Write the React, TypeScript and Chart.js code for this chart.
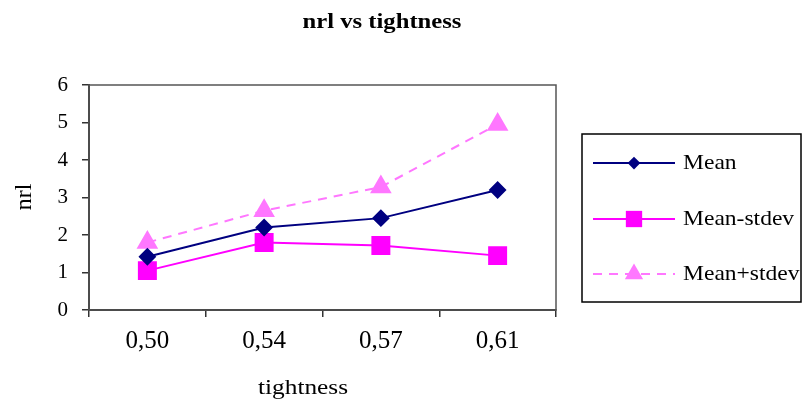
import React, { useEffect, useRef } from "react";
import { Chart, registerables } from "chart.js";

Chart.register(...registerables);

const categories = ["0,50", "0,54", "0,57", "0,61"];
const meanValues = [1.42, 2.2, 2.45, 3.2];
const meanMinusStdev = [1.05, 1.8, 1.72, 1.45];
const meanPlusStdev = [1.8, 2.65, 3.28, 4.95];
const yTicks = [0, 1, 2, 3, 4, 5, 6];
const chartTitle = "nrl vs tightness";
const xTitle = "tightness";
const yTitle = "nrl";

const FONT = "'Liberation Serif', 'Times New Roman', serif";

function stretchedText(ctx: any, text: string, x: number, y: number, sx: number, align: string) {
  ctx.save();
  ctx.translate(x, y);
  ctx.scale(sx, 1);
  ctx.textAlign = align;
  ctx.fillText(text, 0, 0);
  ctx.restore();
}

const decorPlugin = {
  id: "decor",
  afterDraw(chart: any) {
    const ctx = chart.ctx;
    const a = chart.chartArea;
    ctx.save();
    // plot area border
    ctx.strokeStyle = "#555555";
    ctx.lineWidth = 1.5;
    ctx.strokeRect(a.left, a.top, a.right - a.left, a.bottom - a.top);
    // title
    ctx.fillStyle = "#000";
    ctx.textBaseline = "middle";
    ctx.font = `bold 22px ${FONT}`;
    stretchedText(ctx, chartTitle, 382, 22, 1.12, "center");
    ctx.font = `22px ${FONT}`;
    stretchedText(ctx, xTitle, 303, 388, 1.15, "center");
    ctx.save();
    ctx.translate(25, 197);
    ctx.rotate(-Math.PI / 2);
    ctx.font = `24px ${FONT}`;
    ctx.textAlign = "center";
    ctx.fillText(yTitle, 0, 0);
    ctx.restore();
    // legend
    const lx = 582, ly = 134, lw = 219, lh = 168;
    ctx.fillStyle = "#fff";
    ctx.fillRect(lx, ly, lw, lh);
    ctx.strokeStyle = "#000";
    ctx.lineWidth = 1.5;
    ctx.strokeRect(lx, ly, lw, lh);
    const rows = [163, 219, 274];
    chart.data.datasets.forEach((ds: any, i: number) => {
      const y = rows[i];
      ctx.strokeStyle = ds.borderColor;
      ctx.lineWidth = ds.borderWidth;
      ctx.setLineDash(ds.borderDash || []);
      ctx.beginPath();
      ctx.moveTo(593, y);
      ctx.lineTo(675, y);
      ctx.stroke();
      ctx.setLineDash([]);
      ctx.fillStyle = ds.pointBackgroundColor;
      const cx = 634;
      const r = ds.pointRadius;
      ctx.beginPath();
      if (ds.pointStyle === "rectRot") {
        const d = r * 0.85;
        ctx.moveTo(cx, y - d);
        ctx.lineTo(cx + d, y);
        ctx.lineTo(cx, y + d);
        ctx.lineTo(cx - d, y);
      } else if (ds.pointStyle === "rect") {
        const s = r * 0.68;
        ctx.rect(cx - s, y - s, 2 * s, 2 * s);
      } else {
        ctx.moveTo(cx, y - r);
        ctx.lineTo(cx + r * 0.87, y + r * 0.5);
        ctx.lineTo(cx - r * 0.87, y + r * 0.5);
      }
      ctx.closePath();
      ctx.fill();
      ctx.fillStyle = "#000";
      ctx.textBaseline = "middle";
      ctx.font = `22px ${FONT}`;
      stretchedText(ctx, ds.label, 683, y, 1.07, "left");
    });
    ctx.restore();
  },
};

export default function App() {
  const ref = useRef<HTMLCanvasElement>(null);
  useEffect(() => {
    document.body.style.margin = "0";
    const chart = new Chart(ref.current!, {
      type: "line",
      data: {
        labels: categories,
        datasets: [
          {
            label: "Mean",
            data: meanValues,
            borderColor: "#000080",
            backgroundColor: "#000080",
            pointBackgroundColor: "#000080",
            pointBorderColor: "#000080",
            borderWidth: 2,
            pointStyle: "rectRot",
            pointRadius: 7.5,
            tension: 0,
          },
          {
            label: "Mean-stdev",
            data: meanMinusStdev,
            borderColor: "#FF00FF",
            backgroundColor: "#FF00FF",
            pointBackgroundColor: "#FF00FF",
            pointBorderColor: "#FF00FF",
            borderWidth: 2,
            pointStyle: "rect",
            pointRadius: 12,
            tension: 0,
          },
          {
            label: "Mean+stdev",
            data: meanPlusStdev,
            borderColor: "#FF77FF",
            backgroundColor: "#FF77FF",
            pointBackgroundColor: "#FF77FF",
            pointBorderColor: "#FF77FF",
            borderWidth: 2,
            borderDash: [9, 7],
            pointStyle: "triangle",
            pointRadius: 10.5,
            tension: 0,
          },
        ] as any,
      },
      options: {
        animation: false,
        responsive: false,
        layout: { padding: { top: 85, left: 0, right: 249, bottom: 0 } },
        plugins: {
          legend: { display: false },
          title: { display: false },
          tooltip: { enabled: false },
        },
        scales: {
          x: {
            offset: true,
            grid: {
              offset: true,
              drawOnChartArea: false,
              drawTicks: true,
              tickLength: 7,
              color: "#333",
              lineWidth: 1.5,
            },
            border: { color: "#333", width: 2 },
            ticks: {
              color: "#000",
              font: { family: FONT, size: 25 },
              padding: 9,
            },
            afterFit: (s: any) => {
              s.height = 100;
            },
          },
          y: {
            min: 0,
            max: 6,
            afterBuildTicks: (s: any) => {
              s.ticks = yTicks.map((v) => ({ value: v }));
            },
            grid: {
              drawOnChartArea: false,
              drawTicks: true,
              tickLength: 7,
              color: "#333",
              lineWidth: 1.5,
            },
            border: { color: "#333", width: 2 },
            ticks: {
              color: "#000",
              font: { family: FONT, size: 21 },
              padding: 14,
            },
            afterFit: (s: any) => {
              s.width = 89;
            },
          },
        },
      },
      plugins: [decorPlugin],
    });
    return () => chart.destroy();
  }, []);
  return (
    <div style={{ width: 805, height: 410 }}>
      <canvas ref={ref} width={805} height={410} />
    </div>
  );
}
